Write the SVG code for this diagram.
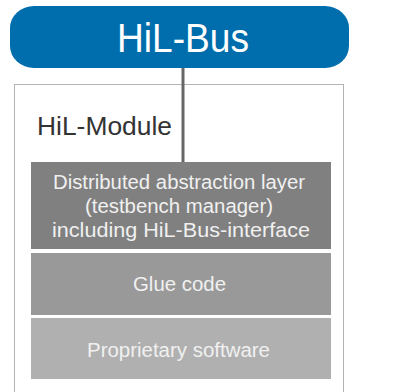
<svg xmlns="http://www.w3.org/2000/svg" width="397" height="392" viewBox="0 0 397 392">
<style>
.t{font-family:"Liberation Sans",Arial,sans-serif;text-anchor:middle;fill:#f0f0f0;font-size:20px}
</style>
<rect width="397" height="392" fill="#ffffff"/>
<g id="module">
<rect x="14.5" y="84.5" width="329" height="320" fill="#ffffff" stroke="#b4b4b4" stroke-width="1"/>
<text x="37" y="135" font-family="Liberation Sans,Arial,sans-serif" font-size="25" fill="#333333" textLength="135" lengthAdjust="spacingAndGlyphs">HiL-Module</text>
</g>
<g id="connectors">
<line x1="183" y1="66" x2="183" y2="162" stroke="#666666" stroke-width="3"/>
</g>
<g id="bus">
<rect x="10" y="6" width="339" height="62" rx="24" ry="22" fill="#006EAC"/>
<text x="183" y="52" font-family="Liberation Sans,Arial,sans-serif" text-anchor="middle" font-size="40" fill="#ffffff" textLength="132" lengthAdjust="spacingAndGlyphs">HiL-Bus</text>
</g>
<g id="abstraction">
<rect x="31" y="162" width="300" height="87" fill="#808080"/>
<text class="t" x="179" y="189" textLength="252" lengthAdjust="spacingAndGlyphs">Distributed abstraction layer</text>
<text class="t" x="179" y="213" textLength="188" lengthAdjust="spacingAndGlyphs">(testbench manager)</text>
<text class="t" x="181" y="237" textLength="258" lengthAdjust="spacingAndGlyphs">including HiL-Bus-interface</text>
</g>
<g id="glue">
<rect x="31" y="253" width="300" height="62" fill="#999999"/>
<text class="t" x="179.5" y="291" textLength="93" lengthAdjust="spacingAndGlyphs">Glue code</text>
</g>
<g id="proprietary">
<rect x="31" y="318" width="300" height="61" fill="#b0b0b0"/>
<text class="t" x="178.5" y="357" textLength="183" lengthAdjust="spacingAndGlyphs">Proprietary software</text>
</g>
</svg>
